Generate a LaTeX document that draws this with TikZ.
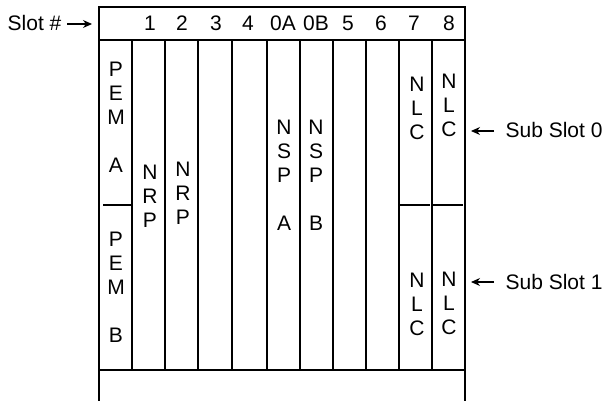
\documentclass[tikz,border=0pt]{standalone}
\usepackage{fontspec}
\setmainfont{Liberation Sans}
\usetikzlibrary{arrows.meta}
\tikzset{every picture/.style={line width=1.2pt}}
\tikzset{
    slotlabel/.style={font=\fontsize{21}{24}\selectfont,inner sep=0pt,anchor=base},
    cardlabel/.style={font=\fontsize{21}{24}\selectfont,inner sep=0pt,align=center},
    pointer/.style={-{Stealth[length=9pt,width=8pt]}}
}

\begin{document}
\begin{tikzpicture}[x=1pt,y=-1pt]
    \useasboundingbox (0,0) rectangle (602,401);

    % Chassis outline (open at the bottom)
    \draw (99,401) -- (99,7) -- (465,7) -- (465,401);
    \draw (99,40) -- (465,40);
    \draw (99,370) -- (465,370);

    % Slot separators
    \draw (132,40) -- (132,370) (165,40) -- (165,370)
          (198,40) -- (198,370) (232,40) -- (232,370)
          (267,40) -- (267,370) (300,40) -- (300,370)
          (333,40) -- (333,370) (366,40) -- (366,370)
          (399,40) -- (399,370) (432,40) -- (432,370);

    % Sub slot dividers
    \draw (103,205) -- (132,205);
    \draw (399,205) -- (430,205);
    \draw (433,205) -- (463,205);

    % Slot numbers
    \node[slotlabel,anchor=base east] (slothdr) at (62,31) {Slot \#};
    \node[slotlabel] (slot1) at (150,31) {1};
    \node[slotlabel] (slot2) at (182,31) {2};
    \node[slotlabel] (slot3) at (216,31) {3};
    \node[slotlabel] (slot4) at (248,31) {4};
    \node[slotlabel] (slot0A) at (283,31) {0A};
    \node[slotlabel] (slot0B) at (316,31) {0B};
    \node[slotlabel] (slot5) at (348,31) {5};
    \node[slotlabel] (slot6) at (381,31) {6};
    \node[slotlabel] (slot7) at (414,31) {7};
    \node[slotlabel] (slot8) at (449,31) {8};

    % Cards
    \node[cardlabel] (pemA) at (116,117) {P\\E\\M\\ \\A};
    \node[cardlabel] (pemB) at (116,287) {P\\E\\M\\ \\B};
    \node[cardlabel] (nrp1) at (150,196) {N\\R\\P};
    \node[cardlabel] (nrp2) at (183,193) {N\\R\\P};
    \node[cardlabel] (nspA) at (284,175) {N\\S\\P\\ \\A};
    \node[cardlabel] (nspB) at (316,175) {N\\S\\P\\ \\B};
    \node[cardlabel] (nlc7a) at (417,108) {N\\L\\C};
    \node[cardlabel] (nlc8a) at (449,105) {N\\L\\C};
    \node[cardlabel] (nlc7b) at (417,304) {N\\L\\C};
    \node[cardlabel] (nlc8b) at (449,303) {N\\L\\C};

    % Pointers
    \coordinate (slottip) at (92,24);
    \draw[pointer] (67,24) -- (slottip);
    \node[slotlabel,anchor=base west] (sub0) at (505,138) {Sub Slot 0};
    \coordinate (sub0tip) at (471,131);
    \draw[pointer] (sub0.west |- sub0tip) ++(-11,0) -- (sub0tip);
    \node[slotlabel,anchor=base west] (sub1) at (505,289) {Sub Slot 1};
    \coordinate (sub1tip) at (471,282);
    \draw[pointer] (sub1.west |- sub1tip) ++(-11,0) -- (sub1tip);
\end{tikzpicture}
\end{document}
